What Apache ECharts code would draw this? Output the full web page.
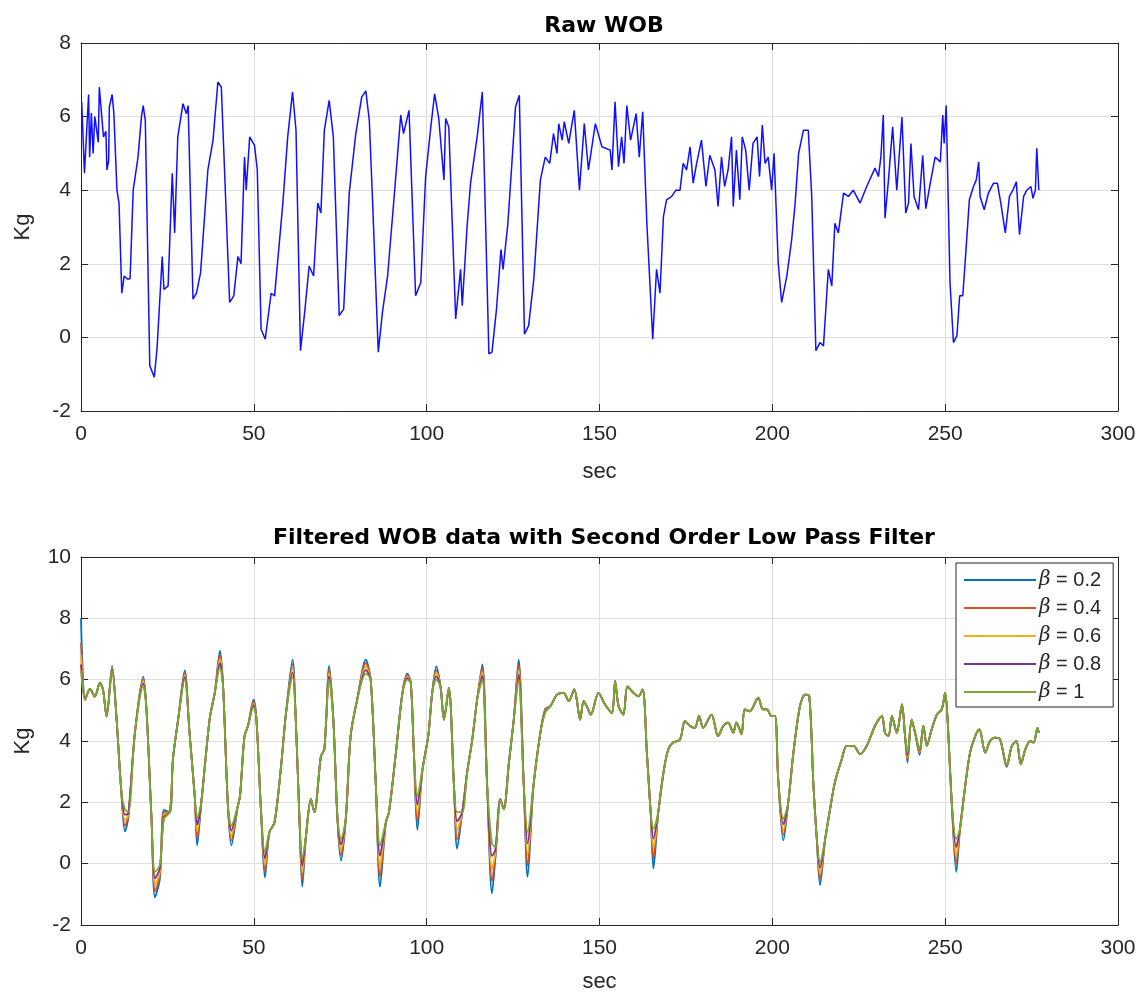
<!DOCTYPE html>
<html>
<head>
<meta charset="utf-8">
<script src="https://cdn.jsdelivr.net/npm/echarts@6/dist/echarts.min.js"></script>
<style>
  html, body { margin: 0; padding: 0; background: #fff; }
  #chart { width: 1145px; height: 994px; }
</style>
</head>
<body>
<div id="chart"></div>
<script>
// raw WOB samples (sec, Kg)
const RAW_T = [0.2, 1.0, 2.2, 2.5, 3.0, 3.5, 4.0, 5.0, 5.3, 6.5, 7.2, 7.5, 8.0, 8.2, 9.0, 9.5, 10.4, 11.0, 11.8, 12.5,
  13.5, 14.2, 15.1, 16.5, 17.5, 18.0, 18.6, 19.9, 21.2, 22.0, 23.5, 24.0, 25.2, 26.4, 27.1, 28.0, 29.5, 30.5, 31.0, 32.4,
  33.4, 34.6, 36.7, 38.2, 39.6, 40.6, 43.0, 44.2, 45.4, 46.3, 47.3, 47.8, 48.8, 50.2, 51.0, 52.1, 53.3, 55.0, 56.0, 58.4,
  59.8, 61.2, 62.2, 63.5, 64.8, 66.0, 67.3, 68.5, 69.4, 70.4, 71.8, 73.0, 74.7, 76.0, 77.6, 79.5, 81.2, 82.4, 83.4, 84.3,
  86.0, 87.2, 88.7, 90.6, 92.5, 93.3, 94.9, 96.8, 98.3, 99.7, 101.2, 102.3, 103.5, 105.0, 105.5, 106.4, 108.4, 109.8, 110.3, 111.7,
  112.7, 114.6, 116.1, 118.0, 118.9, 120.2, 121.5, 122.1, 123.5, 124.7, 125.7, 126.8, 128.3, 129.5, 131.0, 132.9, 134.3, 135.6, 136.7, 137.7,
  138.2, 139.2, 139.8, 141.1, 142.7, 144.2, 145.6, 146.8, 148.8, 150.7, 153.1, 153.6, 154.5, 155.5, 156.4, 157.1, 157.9, 159.0, 160.6, 161.5,
  162.5, 163.7, 165.4, 166.5, 167.5, 168.5, 169.4, 170.9, 172.1, 173.3, 174.2, 175.2, 176.2, 177.1, 178.1, 179.5, 180.8, 181.9, 183.4, 184.3,
  185.3, 186.2, 187.2, 188.2, 188.7, 189.6, 190.6, 191.3, 192.3, 193.3, 194.4, 195.6, 196.3, 197.1, 197.9, 198.8, 199.8, 200.5, 201.7, 202.7,
  204.2, 205.6, 206.6, 207.6, 209.0, 210.4, 211.4, 212.6, 213.8, 214.8, 216.2, 217.2, 218.1, 219.1, 220.6, 222.0, 223.4, 225.4, 227.3, 229.7,
  230.7, 231.4, 232.1, 232.6, 233.6, 234.8, 236.0, 237.5, 238.6, 239.4, 240.1, 241.0, 242.3, 243.5, 244.4, 245.7, 247.1, 248.6, 249.3, 249.7,
  250.3, 250.7, 251.4, 252.4, 253.4, 254.2, 255.1, 256.1, 257.0, 258.2, 259.0, 259.7, 260.1, 261.3, 262.5, 264.0, 265.1, 266.1, 267.4, 268.6,
  269.6, 270.6, 271.5, 272.7, 273.6, 274.8, 275.4, 276.1, 276.5, 277.1];
const RAW_V = [6.4, 4.46, 6.6, 4.9, 6.1, 5.0, 6.0, 5.3, 6.8, 5.45, 5.6, 4.55, 4.8, 6.26, 6.6, 6.1, 4.0, 3.65, 1.2, 1.67,
  1.58, 1.6, 4.0, 4.9, 6.0, 6.3, 5.9, -0.77, -1.08, -0.3, 2.2, 1.3, 1.4, 4.46, 2.84, 5.45, 6.35, 6.08, 6.3, 1.04,
  1.2, 1.76, 4.55, 5.36, 6.94, 6.8, 0.95, 1.13, 2.2, 2.0, 4.9, 4.0, 5.45, 5.22, 4.55, 0.22, -0.05, 1.2, 1.13, 3.65,
  5.45, 6.67, 5.63, -0.36, 0.77, 1.94, 1.67, 3.65, 3.38, 5.63, 6.44, 5.45, 0.59, 0.77, 3.92, 5.54, 6.53, 6.7, 5.9, 3.83,
  -0.4, 0.68, 1.67, 3.83, 6.04, 5.54, 6.17, 1.13, 1.49, 4.37, 5.72, 6.62, 5.95, 4.28, 5.95, 5.72, 0.5, 1.85, 0.86, 3.02,
  4.19, 5.45, 6.67, -0.45, -0.4, 0.77, 2.39, 1.85, 3.1, 4.8, 6.26, 6.58, 0.09, 0.32, 1.58, 4.28, 4.9, 4.73, 5.54, 5.0,
  5.81, 5.36, 5.86, 5.27, 6.17, 4.0, 5.81, 4.55, 5.81, 5.18, 5.09, 4.55, 6.4, 4.64, 5.45, 4.73, 6.3, 5.36, 6.08, 4.9,
  6.13, 3.1, -0.05, 1.85, 1.2, 3.29, 3.74, 3.83, 4.0, 4.0, 4.73, 4.55, 5.18, 4.19, 4.73, 5.36, 4.1, 4.95, 4.55, 3.56,
  4.9, 4.1, 4.55, 5.45, 3.56, 5.09, 3.74, 5.45, 5.09, 4.0, 5.27, 5.45, 4.37, 5.77, 4.73, 4.9, 4.0, 5.0, 2.03, 0.95,
  1.67, 2.66, 3.65, 5.0, 5.63, 5.63, 3.83, -0.36, -0.14, -0.23, 1.85, 1.4, 3.1, 2.84, 3.92, 3.83, 4.0, 3.65, 4.1, 4.6,
  4.37, 4.9, 6.04, 3.24, 4.28, 5.72, 4.0, 5.99, 3.38, 3.65, 5.27, 3.83, 3.47, 4.95, 3.5, 4.19, 4.9, 4.77, 6.04, 5.27,
  6.3, 4.55, 1.49, -0.14, 0.05, 1.13, 1.13, 2.48, 3.74, 4.1, 4.28, 4.77, 3.83, 3.47, 3.92, 4.19, 4.19, 3.65, 2.84, 3.83,
  4.0, 4.23, 2.79, 3.83, 4.0, 4.1, 3.78, 4.0, 5.14, 4.0];

// filtered samples (sec)
const FILT_T = [0, 1.2, 2.6, 4, 5.5, 6.4, 7.4, 9, 10.3, 11.7, 12.7, 13.7, 15.6, 18, 18.9, 20.4, 21.4, 22.8, 24, 25.7,
  26.6, 28.1, 30, 31.4, 32.9, 33.6, 34.8, 37.2, 38.7, 40.2, 41.1, 42.5, 43.5, 45.4, 46, 47.3, 48.3, 49.9, 50.7, 52.1,
  53.2, 54.5, 56, 57.9, 59.3, 61.2, 62.2, 63.2, 64, 65.1, 66.5, 67.5, 69.4, 70.4, 71.8, 73, 74.2, 75.2, 76.6, 78,
  79.9, 82.4, 83.8, 85.3, 86.5, 88.2, 89.1, 91.1, 93, 94.4, 95.4, 96.3, 97.3, 98.8, 100.5, 101.6, 102.8, 104, 105, 106.4,
  107.9, 108.8, 110.3, 111.7, 113.2, 114.6, 116.1, 117.5, 118.9, 119.9, 121.3, 122.3, 123.8, 125.2, 126.6, 128.1, 129.2, 130.9, 132.9, 134.3,
  135.8, 137.7, 139.6, 141.1, 142.7, 144.4, 145.4, 146.3, 147.5, 149.7, 151.6, 153.6, 154.5, 155.5, 156.9, 158.1, 159.8, 161.3, 162.5, 163.7,
  164.8, 165.6, 167, 168.5, 169.9, 171.3, 173.3, 174.7, 176.2, 177.6, 178.8, 180, 182.4, 184.3, 185.8, 187.2, 188.7, 189.6, 191.1, 192,
  193.5, 195.9, 197.3, 198.4, 199.8, 200.8, 201.7, 203.2, 204.6, 206.1, 208, 209.5, 210.7, 211.9, 212.8, 213.8, 215.3, 216.7, 218.1, 220.1,
  221.5, 223.5, 225.4, 227.3, 229.7, 231.7, 232.6, 233.6, 234.6, 236, 237.5, 238.4, 239.1, 240.3, 241.3, 242.6, 243.7, 244.7, 246.1, 247.6,
  249, 250, 250.7, 251.9, 253.2, 254.3, 255.8, 257.2, 258.7, 259.9, 261.6, 263, 264.5, 265.9, 267.8, 269.3, 270.6, 271.9, 273.2, 274.6,
  275.6, 276.7, 277.1];

const F_B02 = [8.0, 5.35, 5.7, 5.45, 5.9, 5.65, 4.8, 6.45, 4.7, 2.3, 1.05, 1.5, 4.27, 6.1, 5.1, 1.46, -1.1, -0.5, 1.75, 1.68,
  3.4, 4.7, 6.3, 4.27, 2.2, 0.6, 2.0, 4.7, 5.57, 6.95, 5.78, 1.9, 0.6, 1.9, 2.2, 4.16, 4.49, 5.35, 4.8, 1.68,
  -0.45, 1.03, 1.35, 3.2, 4.9, 6.65, 4.5, 1.46, -0.75, 0.92, 2.1, 1.68, 3.5, 3.73, 6.45, 4.7, 1.46, 0.1, 1.46, 4.16,
  5.35, 6.65, 6.0, 2.54, -0.75, 1.35, 1.68, 3.62, 5.57, 6.2, 5.9, 3.62, 1.1, 3.08, 4.2, 5.57, 6.43, 5.78, 4.7, 5.73,
  2.54, 0.49, 1.68, 2.97, 4.05, 5.35, 6.5, 2.54, -0.97, 0.2, 2.1, 1.78, 3.3, 4.7, 6.65, 2.54, -0.43, 2.54, 4.27, 5.05,
  5.14, 5.51, 5.57, 5.3, 5.68, 4.7, 5.3, 5.14, 4.86, 5.57, 5.19, 4.92, 5.95, 5.14, 4.86, 5.78, 5.57, 5.46, 5.68, 3.62,
  1.68, -0.16, 1.68, 2.97, 3.73, 3.95, 4.05, 4.65, 4.49, 4.43, 4.81, 4.43, 4.86, 4.16, 4.49, 4.6, 4.27, 4.6, 4.22, 5.03,
  4.97, 5.41, 5.03, 5.03, 4.81, 4.81, 2.76, 0.76, 2.0, 3.62, 5.14, 5.51, 5.46, 2.54, 0.92, -0.7, 0.81, 1.78, 2.65, 3.41,
  3.84, 3.84, 3.57, 3.84, 4.49, 4.81, 4.27, 4.16, 4.81, 4.27, 5.19, 4.16, 3.3, 4.7, 4.27, 3.55, 4.49, 3.84, 4.38, 4.86,
  5.03, 5.57, 4.7, 2.0, -0.27, 1.14, 2.54, 3.62, 4.16, 4.38, 3.62, 4.0, 4.11, 4.05, 3.15, 3.84, 4.0, 3.24, 3.73, 4.0,
  3.95, 4.43, 4.27];
const F_B04 = [7.2, 5.35, 5.7, 5.45, 5.9, 5.65, 4.8, 6.41, 4.7, 2.3, 1.23, 1.55, 4.27, 6.02, 5.1, 1.46, -0.9, -0.39, 1.68, 1.68,
  3.4, 4.7, 6.22, 4.27, 2.2, 0.82, 2.0, 4.7, 5.57, 6.81, 5.78, 1.9, 0.76, 1.9, 2.2, 4.16, 4.49, 5.29, 4.8, 1.68,
  -0.24, 1.03, 1.35, 3.2, 4.9, 6.51, 4.5, 1.46, -0.52, 0.92, 2.1, 1.68, 3.5, 3.73, 6.34, 4.7, 1.46, 0.28, 1.46, 4.16,
  5.35, 6.54, 6.0, 2.54, -0.42, 1.35, 1.68, 3.62, 5.57, 6.15, 5.9, 3.62, 1.38, 3.08, 4.2, 5.57, 6.32, 5.78, 4.7, 5.73,
  2.54, 0.79, 1.68, 2.97, 4.05, 5.35, 6.38, 2.54, -0.57, 0.29, 2.1, 1.78, 3.3, 4.7, 6.49, 2.54, -0.07, 2.54, 4.27, 5.02,
  5.14, 5.51, 5.57, 5.3, 5.68, 4.7, 5.3, 5.14, 4.86, 5.57, 5.19, 4.92, 5.95, 5.14, 4.86, 5.78, 5.57, 5.46, 5.68, 3.62,
  1.68, 0.17, 1.68, 2.97, 3.73, 3.95, 4.05, 4.65, 4.49, 4.43, 4.81, 4.43, 4.86, 4.16, 4.49, 4.6, 4.27, 4.6, 4.22, 5.03,
  4.97, 5.41, 5.03, 5.03, 4.81, 4.81, 2.76, 0.94, 2.0, 3.62, 5.14, 5.51, 5.46, 2.54, 0.92, -0.51, 0.81, 1.78, 2.65, 3.41,
  3.84, 3.84, 3.57, 3.84, 4.49, 4.81, 4.27, 4.16, 4.81, 4.27, 5.19, 4.16, 3.38, 4.7, 4.27, 3.6, 4.49, 3.84, 4.38, 4.86,
  5.03, 5.57, 4.7, 2.0, 0.0, 1.14, 2.54, 3.62, 4.16, 4.38, 3.62, 4.0, 4.11, 4.05, 3.17, 3.84, 4.0, 3.24, 3.73, 4.0,
  3.95, 4.43, 4.27];
const F_B06 = [6.8, 5.35, 5.7, 5.45, 5.9, 5.65, 4.8, 6.38, 4.7, 2.3, 1.42, 1.59, 4.27, 5.95, 5.1, 1.46, -0.68, -0.28, 1.6, 1.68,
  3.4, 4.7, 6.15, 4.27, 2.2, 1.05, 2.0, 4.7, 5.57, 6.68, 5.78, 1.9, 0.92, 1.9, 2.2, 4.16, 4.49, 5.22, 4.8, 1.68,
  -0.03, 1.03, 1.35, 3.2, 4.9, 6.38, 4.5, 1.46, -0.3, 0.92, 2.1, 1.68, 3.5, 3.73, 6.22, 4.7, 1.46, 0.46, 1.46, 4.16,
  5.35, 6.42, 6.0, 2.54, -0.08, 1.35, 1.68, 3.62, 5.57, 6.1, 5.9, 3.62, 1.65, 3.08, 4.2, 5.57, 6.22, 5.78, 4.7, 5.73,
  2.54, 1.09, 1.68, 2.97, 4.05, 5.35, 6.25, 2.54, -0.16, 0.37, 2.1, 1.78, 3.3, 4.7, 6.32, 2.54, 0.3, 2.54, 4.27, 4.98,
  5.14, 5.51, 5.57, 5.3, 5.68, 4.7, 5.3, 5.14, 4.86, 5.57, 5.19, 4.92, 5.95, 5.14, 4.86, 5.78, 5.57, 5.46, 5.68, 3.62,
  1.68, 0.49, 1.68, 2.97, 3.73, 3.95, 4.05, 4.65, 4.49, 4.43, 4.81, 4.43, 4.86, 4.16, 4.49, 4.6, 4.27, 4.6, 4.22, 5.03,
  4.97, 5.41, 5.03, 5.03, 4.81, 4.81, 2.76, 1.11, 2.0, 3.62, 5.14, 5.51, 5.46, 2.54, 0.92, -0.33, 0.81, 1.78, 2.65, 3.41,
  3.84, 3.84, 3.57, 3.84, 4.49, 4.81, 4.27, 4.16, 4.81, 4.27, 5.19, 4.16, 3.46, 4.7, 4.27, 3.64, 4.49, 3.84, 4.38, 4.86,
  5.03, 5.57, 4.7, 2.0, 0.27, 1.14, 2.54, 3.62, 4.16, 4.38, 3.62, 4.0, 4.11, 4.05, 3.2, 3.84, 4.0, 3.24, 3.73, 4.0,
  3.95, 4.43, 4.27];
const F_B08 = [6.5, 5.35, 5.7, 5.45, 5.9, 5.65, 4.8, 6.34, 4.7, 2.3, 1.6, 1.64, 4.27, 5.87, 5.1, 1.46, -0.48, -0.16, 1.53, 1.68,
  3.4, 4.7, 6.08, 4.27, 2.2, 1.27, 2.0, 4.7, 5.57, 6.54, 5.78, 1.9, 1.08, 1.9, 2.2, 4.16, 4.49, 5.16, 4.8, 1.68,
  0.17, 1.03, 1.35, 3.2, 4.9, 6.24, 4.5, 1.46, -0.07, 0.92, 2.1, 1.68, 3.5, 3.73, 6.11, 4.7, 1.46, 0.63, 1.46, 4.16,
  5.35, 6.31, 6.0, 2.54, 0.26, 1.35, 1.68, 3.62, 5.57, 6.05, 5.9, 3.62, 1.93, 3.08, 4.2, 5.57, 6.11, 5.78, 4.7, 5.73,
  2.54, 1.38, 1.68, 2.97, 4.05, 5.35, 6.12, 2.54, 0.25, 0.46, 2.1, 1.78, 3.3, 4.7, 6.16, 2.54, 0.66, 2.54, 4.27, 4.95,
  5.14, 5.51, 5.57, 5.3, 5.68, 4.7, 5.3, 5.14, 4.86, 5.57, 5.19, 4.92, 5.95, 5.14, 4.86, 5.78, 5.57, 5.46, 5.68, 3.62,
  1.68, 0.82, 1.68, 2.97, 3.73, 3.95, 4.05, 4.65, 4.49, 4.43, 4.81, 4.43, 4.86, 4.16, 4.49, 4.6, 4.27, 4.6, 4.22, 5.03,
  4.97, 5.41, 5.03, 5.03, 4.81, 4.81, 2.76, 1.29, 2.0, 3.62, 5.14, 5.51, 5.46, 2.54, 0.92, -0.14, 0.81, 1.78, 2.65, 3.41,
  3.84, 3.84, 3.57, 3.84, 4.49, 4.81, 4.27, 4.16, 4.81, 4.27, 5.19, 4.16, 3.54, 4.7, 4.27, 3.69, 4.49, 3.84, 4.38, 4.86,
  5.03, 5.57, 4.7, 2.0, 0.54, 1.14, 2.54, 3.62, 4.16, 4.38, 3.62, 4.0, 4.11, 4.05, 3.22, 3.84, 4.0, 3.24, 3.73, 4.0,
  3.95, 4.43, 4.27];
const F_B10 = [6.3, 5.35, 5.7, 5.45, 5.9, 5.65, 4.8, 6.3, 4.7, 2.3, 1.78, 1.68, 4.27, 5.8, 5.1, 1.46, -0.27, -0.05, 1.46, 1.68,
  3.4, 4.7, 6.0, 4.27, 2.2, 1.5, 2.0, 4.7, 5.57, 6.4, 5.78, 1.9, 1.24, 1.9, 2.2, 4.16, 4.49, 5.1, 4.8, 1.68,
  0.38, 1.03, 1.35, 3.2, 4.9, 6.1, 4.5, 1.46, 0.16, 0.92, 2.1, 1.68, 3.5, 3.73, 6.0, 4.7, 1.46, 0.81, 1.46, 4.16,
  5.35, 6.2, 6.0, 2.54, 0.59, 1.35, 1.68, 3.62, 5.57, 6.0, 5.9, 3.62, 2.2, 3.08, 4.2, 5.57, 6.0, 5.78, 4.7, 5.73,
  2.54, 1.68, 1.68, 2.97, 4.05, 5.35, 6.0, 2.54, 0.65, 0.54, 2.1, 1.78, 3.3, 4.7, 6.0, 2.54, 1.03, 2.54, 4.27, 4.92,
  5.14, 5.51, 5.57, 5.3, 5.68, 4.7, 5.3, 5.14, 4.86, 5.57, 5.19, 4.92, 5.95, 5.14, 4.86, 5.78, 5.57, 5.46, 5.68, 3.62,
  1.68, 1.14, 1.68, 2.97, 3.73, 3.95, 4.05, 4.65, 4.49, 4.43, 4.81, 4.43, 4.86, 4.16, 4.49, 4.6, 4.27, 4.6, 4.22, 5.03,
  4.97, 5.41, 5.03, 5.03, 4.81, 4.81, 2.76, 1.46, 2.0, 3.62, 5.14, 5.51, 5.46, 2.54, 0.92, 0.05, 0.81, 1.78, 2.65, 3.41,
  3.84, 3.84, 3.57, 3.84, 4.49, 4.81, 4.27, 4.16, 4.81, 4.27, 5.19, 4.16, 3.62, 4.7, 4.27, 3.73, 4.49, 3.84, 4.38, 4.86,
  5.03, 5.57, 4.7, 2.0, 0.81, 1.14, 2.54, 3.62, 4.16, 4.38, 3.62, 4.0, 4.11, 4.05, 3.24, 3.84, 4.0, 3.24, 3.73, 4.0,
  3.95, 4.43, 4.27];

const BETA_VALUES = ['0.2', '0.4', '0.6', '0.8', '1'];
const BETA_NAMES = BETA_VALUES.map(v => 'β = ' + v);
const BETA_COLORS = ['#0072BD', '#D95319', '#EDB120', '#7E2F8E', '#77AC30'];
const FILTERED = [F_B02, F_B04, F_B06, F_B08, F_B10];

const FONT = 'Liberation Sans, Arial, sans-serif';
const TITLE_FONT = 'DejaVu Sans, Arial, sans-serif';
const INK = '#262626';

const zip = (xs, ys) => xs.map((x, i) => [x, ys[i]]);

const chart = echarts.init(document.getElementById('chart'), null, { renderer: 'canvas' });

// one visible axis plus a mirrored tick-only axis per side, matlab box style
const xAxisFor = (gridIndex, pos) => ({
  type: 'value', gridIndex: gridIndex, position: pos,
  min: 0, max: 300, interval: 50,
  axisLine: { show: true, onZero: false, lineStyle: { color: INK, width: 1 } },
  axisTick: { show: true, inside: true, length: 7, lineStyle: { color: INK } },
  axisLabel: {
    show: pos === 'bottom', color: INK, fontSize: 21, fontFamily: FONT, margin: 13
  },
  splitLine: { show: pos === 'bottom', lineStyle: { color: '#dedede', width: 1 } },
  name: pos === 'bottom' ? 'sec' : '',
  nameLocation: 'middle', nameGap: gridIndex === 0 ? 50 : 46,
  nameTextStyle: { color: INK, fontSize: 22, fontFamily: FONT }
});

const yAxisFor = (gridIndex, pos, min, max) => ({
  type: 'value', gridIndex: gridIndex, position: pos,
  min: min, max: max, interval: 2,
  axisLine: { show: true, onZero: false, lineStyle: { color: INK, width: 1 } },
  axisTick: { show: true, inside: true, length: 7, lineStyle: { color: INK } },
  axisLabel: {
    show: pos === 'left', color: INK, fontSize: 21, fontFamily: FONT, margin: 10
  },
  splitLine: { show: pos === 'left', lineStyle: { color: '#dedede', width: 1 } },
  name: pos === 'left' ? 'Kg' : '',
  nameLocation: 'middle', nameGap: 47, nameRotate: 90,
  nameTextStyle: { color: INK, fontSize: 22, fontFamily: FONT }
});

const filteredSeries = FILTERED.map((vals, i) => ({
  name: BETA_NAMES[i],
  type: 'line',
  xAxisIndex: 2, yAxisIndex: 2,
  data: zip(FILT_T, vals),
  symbol: 'none',
  smooth: 0.3,
  lineStyle: { color: BETA_COLORS[i], width: 1.8 },
  itemStyle: { color: BETA_COLORS[i] },
  animation: false,
  z: 2 + i
}));

const option = {
  backgroundColor: '#ffffff',
  animation: false,
  title: [
    {
      text: 'Raw WOB', left: 599, top: 10, textAlign: 'center',
      textStyle: { color: '#000', fontSize: 22, fontWeight: 'bold', fontFamily: TITLE_FONT }
    },
    {
      text: 'Filtered WOB data with Second Order Low Pass Filter', left: 599, top: 522, textAlign: 'center',
      textStyle: { color: '#000', fontSize: 22, fontWeight: 'bold', fontFamily: TITLE_FONT }
    }
  ],
  legend: {
    data: BETA_NAMES,
    orient: 'vertical',
    left: 956, top: 563,
    backgroundColor: '#fff',
    borderColor: INK, borderWidth: 1, borderRadius: 0,
    padding: [7, 12, 5, 8],
    icon: 'path://M0 0H72V2H0Z',
    itemWidth: 72, itemHeight: 14, itemGap: 8,
    formatter: name => '{b|β} = ' + name.split('= ')[1],
    textStyle: {
      color: INK, fontSize: 20, fontFamily: FONT, padding: [0, 0, 0, -2],
      rich: {
        b: { color: INK, fontSize: 20, fontFamily: 'DejaVu Serif, serif', fontStyle: 'italic' }
      }
    },
    selectedMode: false
  },
  grid: [
    { left: 81, top: 43, width: 1037, height: 368, show: false, outerBoundsMode: 'none', containLabel: false },
    { left: 81, top: 557, width: 1037, height: 368, show: false, outerBoundsMode: 'none', containLabel: false }
  ],
  xAxis: [xAxisFor(0, 'bottom'), xAxisFor(0, 'top'), xAxisFor(1, 'bottom'), xAxisFor(1, 'top')],
  yAxis: [yAxisFor(0, 'left', -2, 8), yAxisFor(0, 'right', -2, 8), yAxisFor(1, 'left', -2, 10), yAxisFor(1, 'right', -2, 10)],
  series: [
    {
      name: 'Raw WOB',
      type: 'line',
      xAxisIndex: 0, yAxisIndex: 0,
      data: zip(RAW_T, RAW_V),
      symbol: 'none',
      lineStyle: { color: '#1010ff', width: 1.5 },
      animation: false
    }
  ].concat(filteredSeries)
};

chart.setOption(option);
</script>
</body>
</html>
